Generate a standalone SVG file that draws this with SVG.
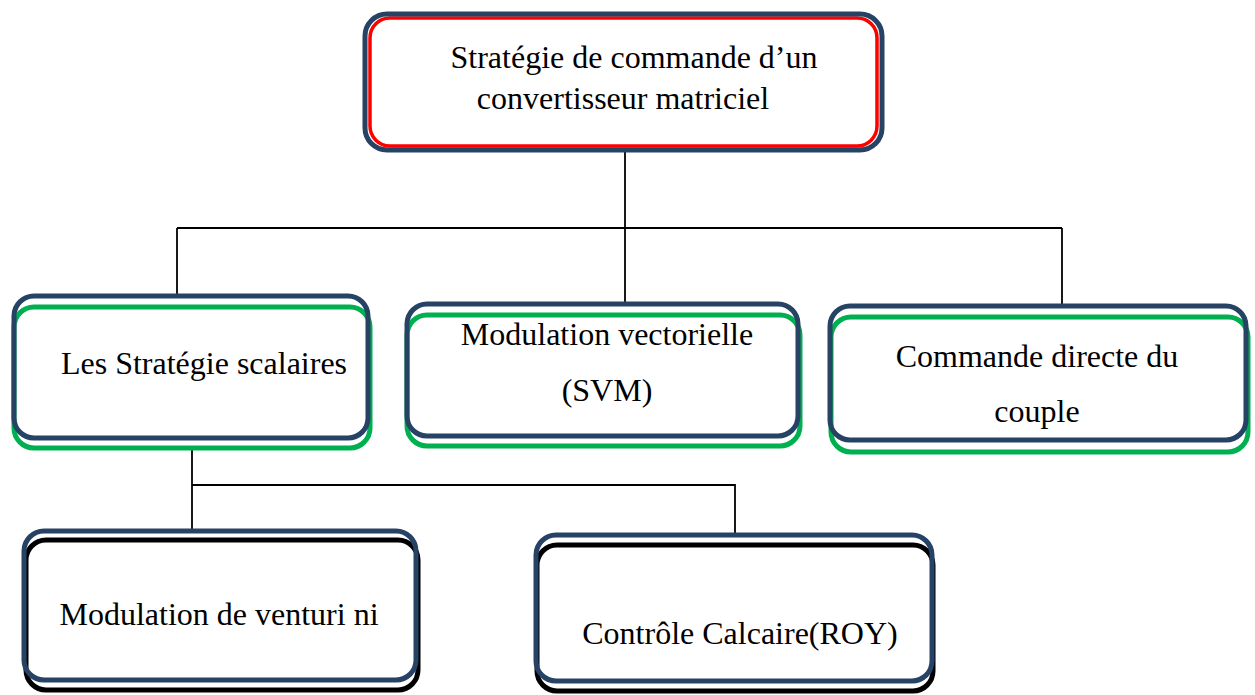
<svg xmlns="http://www.w3.org/2000/svg" width="1255" height="695" viewBox="0 0 1255 695">
  <style>
    .frame { fill: none; stroke: #264265; stroke-width: 5; }
    .inner { fill: #ffffff; stroke-width: 5; }
    .red { stroke: #ff0000; stroke-width: 3.5; }
    .green { stroke: #00b050; }
    .black { stroke: #000000; }
    .link { fill: none; stroke: #000000; stroke-width: 1.8; }
    .label { font-family: "Liberation Serif", "Times New Roman", serif; font-size: 32px; fill: #000000; text-anchor: middle; }
  </style>
  <rect width="1255" height="695" fill="#ffffff"/>

  <g id="connectors">
    <path class="link" d="M625,152 V302"/>
    <path class="link" d="M177,228 H1062"/>
    <path class="link" d="M177,228 V294"/>
    <path class="link" d="M1062,228 V304"/>
    <path class="link" d="M192,440 V529"/>
    <path class="link" d="M192,485 H735 V533"/>
  </g>

  <g id="root">
    <rect class="inner red" x="370" y="18" width="507" height="128" rx="20"/>
    <rect class="frame" x="365" y="14" width="517" height="136" rx="22" stroke-width="6.5"/>
    <text class="label" x="634" y="68">Stratégie de commande d’un</text>
    <text class="label" x="623" y="109">convertisseur matriciel</text>
  </g>

  <g id="scalaires">
    <rect class="inner green" x="14" y="307" width="356" height="141" rx="20"/>
    <rect class="frame" x="14" y="296" width="354" height="142" rx="20"/>
    <text class="label" x="204" y="374">Les Stratégie scalaires</text>
  </g>

  <g id="svm">
    <rect class="inner green" x="407" y="315" width="393" height="131" rx="20"/>
    <rect class="frame" x="407" y="304" width="391" height="132" rx="20"/>
    <text class="label" x="607" y="345">Modulation vectorielle</text>
    <text class="label" x="607" y="401">(SVM)</text>
  </g>

  <g id="dtc">
    <rect class="inner green" x="831" y="317" width="417" height="135" rx="20"/>
    <rect class="frame" x="830" y="306" width="416" height="134" rx="20"/>
    <text class="label" x="1037" y="367">Commande directe du</text>
    <text class="label" x="1037" y="422">couple</text>
  </g>

  <g id="venturini">
    <rect class="inner black" x="26" y="540" width="392" height="150" rx="20"/>
    <rect class="frame" x="24" y="531" width="392" height="149" rx="20"/>
    <text class="label" x="219" y="625">Modulation de venturi ni</text>
  </g>

  <g id="roy">
    <rect class="inner black" x="537" y="545" width="396" height="146" rx="20"/>
    <rect class="frame" x="536" y="535" width="396" height="146" rx="20"/>
    <text class="label" x="740" y="644">Contrôle Calcaire(ROY)</text>
  </g>
</svg>
